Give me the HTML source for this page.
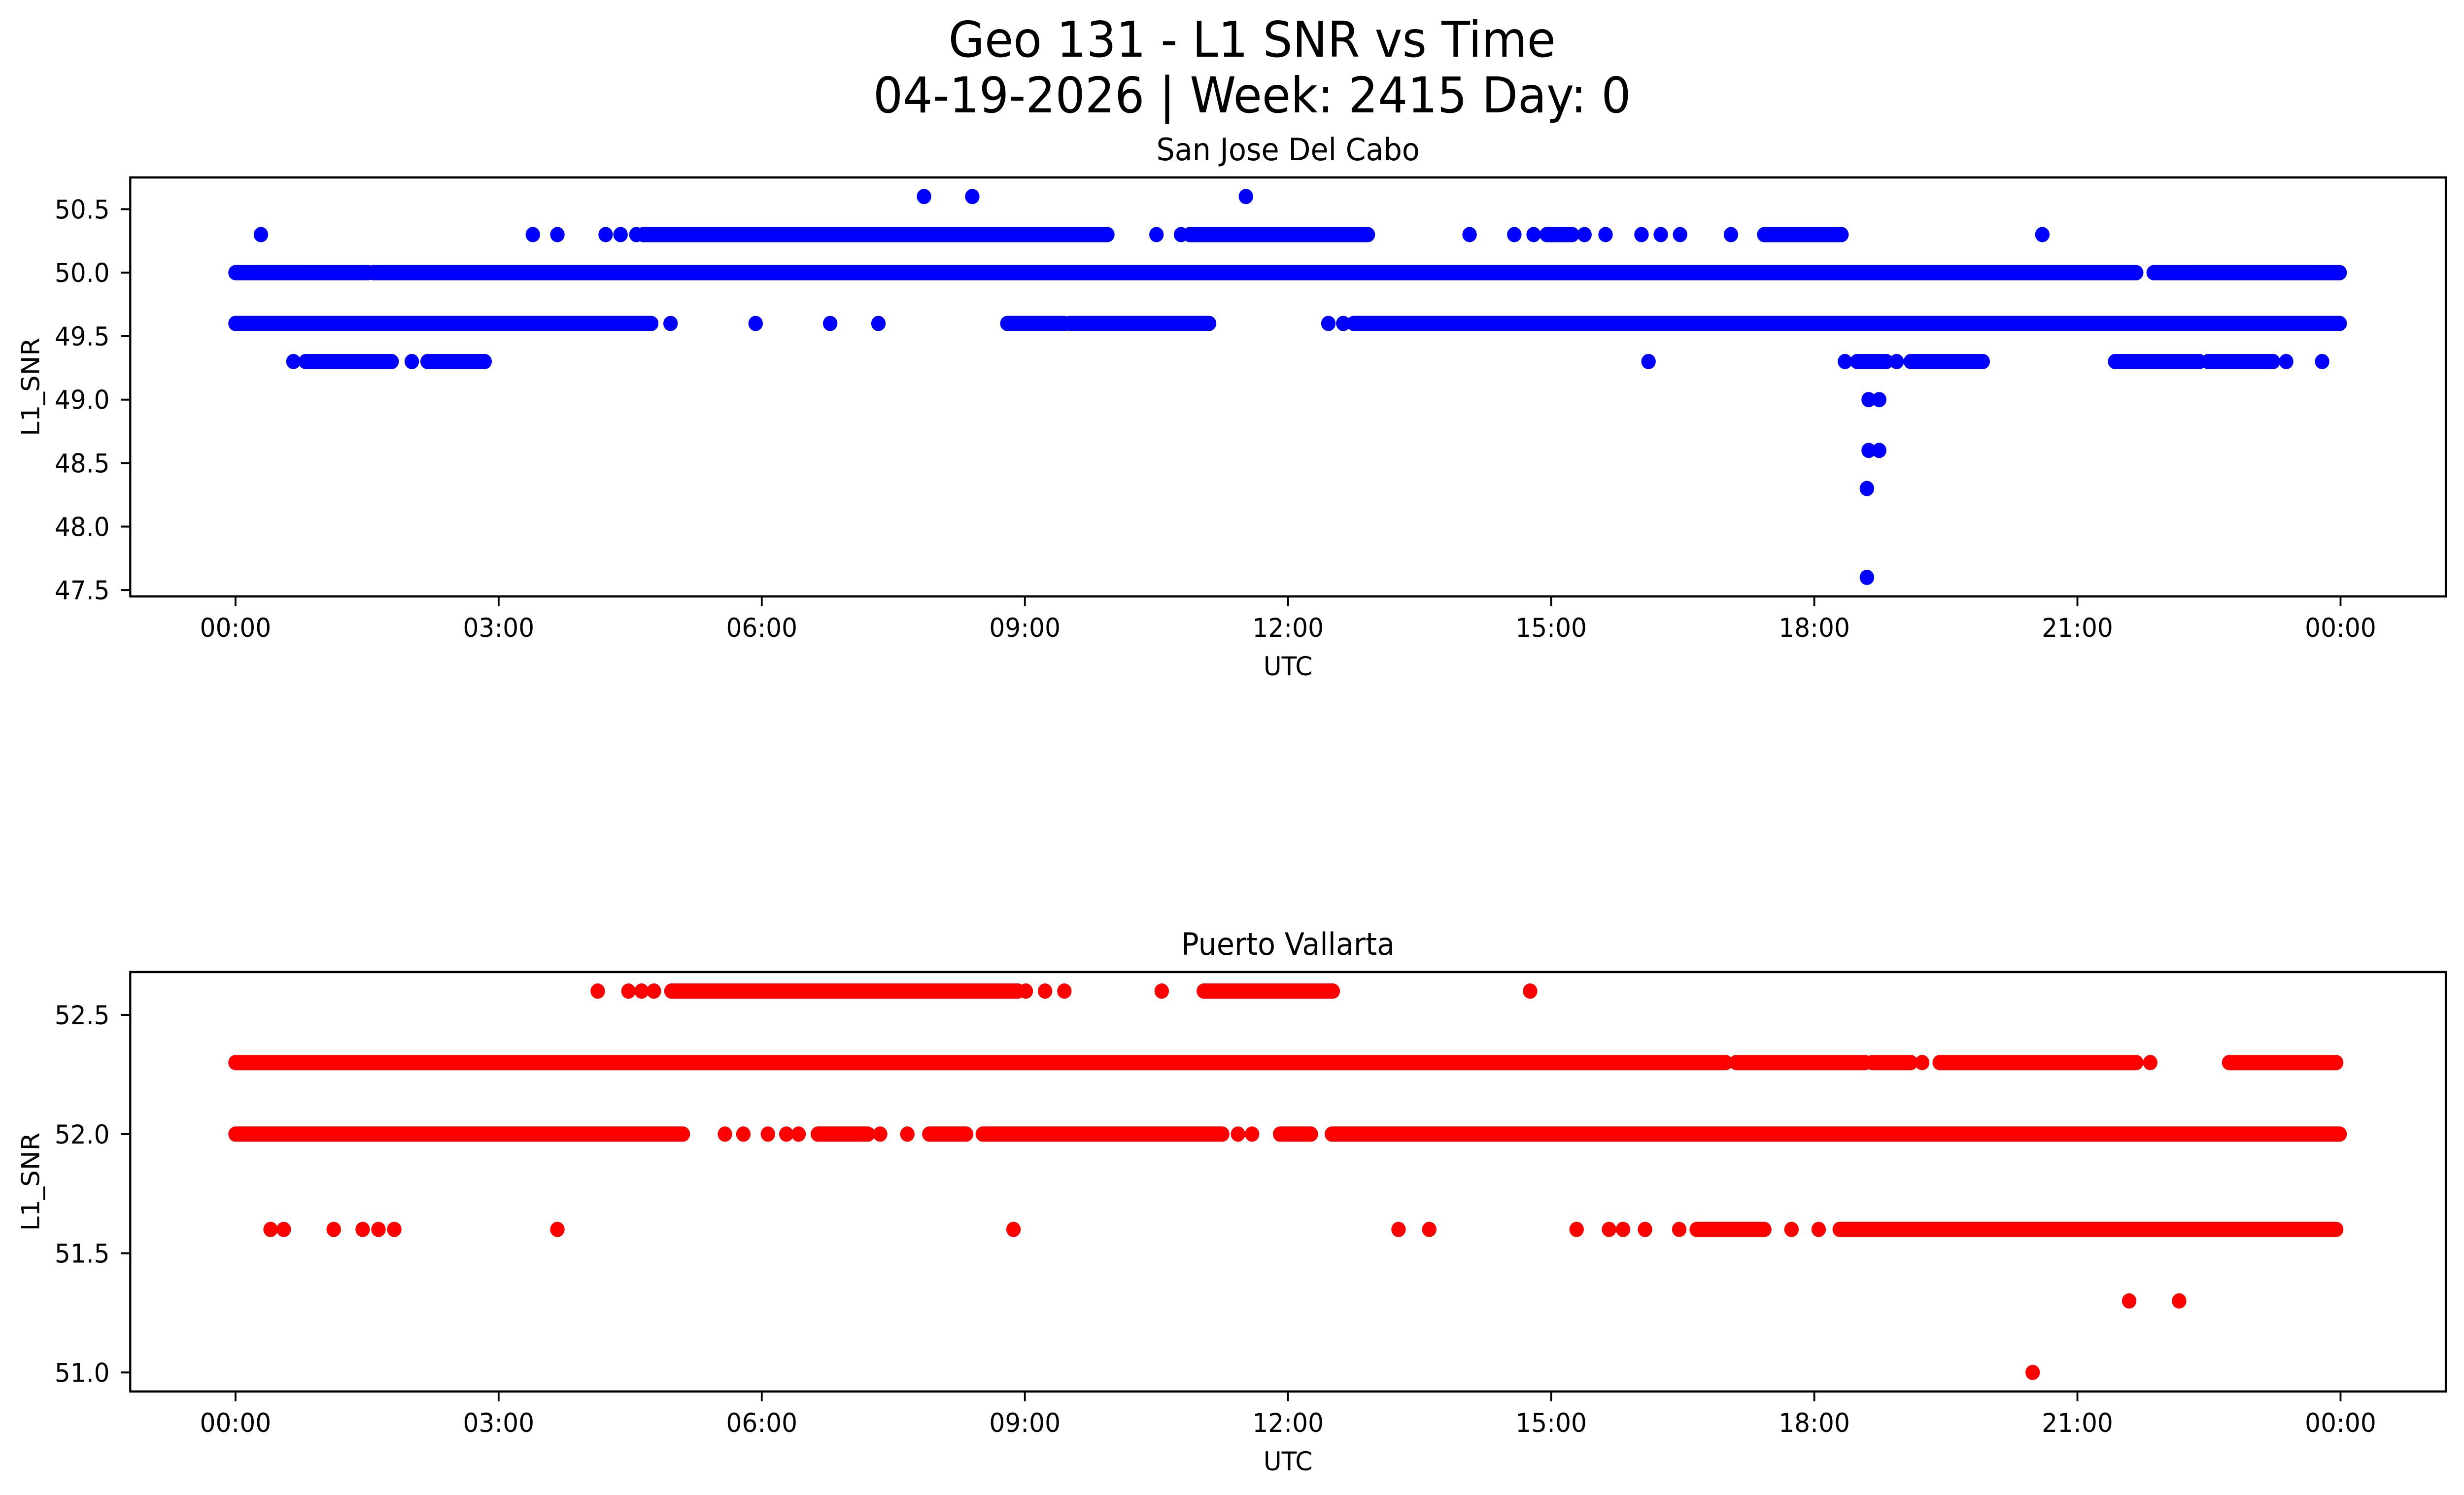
<!DOCTYPE html>
<html><head><meta charset="utf-8"><style>
html,body{margin:0;padding:0;background:#fff;overflow:hidden;width:100%;height:100%}
svg{display:block;font-family:"DejaVu Sans","Liberation Sans",sans-serif;overflow:hidden;width:100vw;height:100vh}
</style></head><body>
<svg id="fig" xmlns="http://www.w3.org/2000/svg" viewBox="0 0 5278 3033" preserveAspectRatio="none">
<rect width="5278" height="3033" fill="#fff"/>
<text x="2682" y="115" font-size="100" text-anchor="middle">Geo 131 - L1 SNR vs Time</text>
<text x="2682" y="228" font-size="100" text-anchor="middle">04-19-2026 | Week: 2415 Day: 0</text>
<g id="p1"></g>
<g id="p2"></g>
</svg>
<script>
// X ticks (hours) and labels
const xTickHours = [0,3,6,9,12,15,18,21,24];
const xTickLabels = ["00:00","03:00","06:00","09:00","12:00","15:00","18:00","21:00","00:00"];

// Top panel: San Jose Del Cabo
const topYTicks = [47.5,48.0,48.5,49.0,49.5,50.0,50.5];
const topRunStarts = [4.65,10.88,17.43,0.0,1.57,21.87,0.0,8.80,9.51,12.75,0.80,2.19,14.95,19.10,21.43,22.49,18.49];
const topRunEnds   = [9.94,12.91,18.31,1.51,21.67,23.99,4.74,9.45,11.10,23.99,1.78,2.84,15.24,19.92,22.39,23.23,18.82];
const topRunValues = [50.3,50.3,50.3,50.0,50.0,50.0,49.6,49.6,49.6,49.6,49.3,49.3,50.3,49.3,49.3,49.3,49.3];
const topPointTimes  = [7.85,8.40,11.52,0.29,3.39,3.67,4.22,4.39,4.57,10.50,10.78,14.07,14.58,14.80,15.38,15.62,16.03,16.25,16.47,17.05,20.60,4.96,5.93,6.78,7.33,12.46,12.63,0.66,2.01,16.11,18.35,18.94,23.38,23.79,18.62,18.74,18.62,18.74,18.60,18.60];
const topPointValues = [50.6,50.6,50.6,50.3,50.3,50.3,50.3,50.3,50.3,50.3,50.3,50.3,50.3,50.3,50.3,50.3,50.3,50.3,50.3,50.3,50.3,49.6,49.6,49.6,49.6,49.6,49.6,49.3,49.3,49.3,49.3,49.3,49.3,49.3,49.0,49.0,48.6,48.6,48.3,47.6];

// Bottom panel: Puerto Vallarta
const botYTicks = [51.0,51.5,52.0,52.5];
const botRunStarts = [4.97,11.04,0.0,17.11,18.66,19.43,22.73,0.0,6.64,7.91,8.52,11.91,12.50,16.66,18.29];
const botRunEnds   = [8.92,12.51,16.99,18.58,19.10,21.67,23.95,5.10,7.21,8.33,11.25,12.26,23.99,17.43,23.95];
const botRunValues = [52.6,52.6,52.3,52.3,52.3,52.3,52.3,52.0,52.0,52.0,52.0,52.0,52.0,51.6,51.6];
const botPointTimes  = [4.13,4.48,4.63,4.77,9.01,9.23,9.45,10.56,14.76,19.23,21.83,5.58,5.79,6.07,6.28,6.42,7.35,7.66,11.43,11.59,0.40,0.55,1.12,1.45,1.63,1.81,3.67,8.87,13.26,13.61,15.29,15.66,15.82,16.07,16.46,17.74,18.05,21.59,22.16,20.49];
const botPointValues = [52.6,52.6,52.6,52.6,52.6,52.6,52.6,52.6,52.6,52.3,52.3,52.0,52.0,52.0,52.0,52.0,52.0,52.0,52.0,52.0,51.6,51.6,51.6,51.6,51.6,51.6,51.6,51.6,51.6,51.6,51.6,51.6,51.6,51.6,51.6,51.6,51.6,51.3,51.3,51.0];

const NS = "http://www.w3.org/2000/svg";
const AX_L = 279, AX_R = 5239;
const X0 = -1.2, X1 = 25.2;
function xScale(h){ return AX_L + (h - X0) / (X1 - X0) * (AX_R - AX_L); }
function mk(tag, attrs, parent){ const e = document.createElementNS(NS, tag); for (const k in attrs) e.setAttribute(k, attrs[k]); parent.appendChild(e); return e; }

function panel(g, top, bottom, ymin, ymax, yTicks, runS, runE, runV, ptT, ptV, color, title){
  const yScale = v => bottom - (v - ymin) / (ymax - ymin) * (bottom - top);
  const R = 15.5;
  const marks = mk('g', {}, g);
  
  
  for (let i = 0; i < runS.length; i++){
    const ln = mk('line', {x1: xScale(runS[i]), x2: xScale(runE[i]), y1: yScale(runV[i]), y2: yScale(runV[i]), stroke: color, 'stroke-width': 2*R, 'stroke-linecap': 'round'}, marks);
    
    
  }
  for (let i = 0; i < ptT.length; i++){
    const c = mk('circle', {cx: xScale(ptT[i]), cy: yScale(ptV[i]), r: R, fill: color}, marks);
    
    
  }
  const frame = mk('rect', {x: AX_L, y: top, width: AX_R - AX_L, height: bottom - top, fill: 'none', stroke: '#000', 'stroke-width': 4.5}, g);
  
  
  for (let i = 0; i < yTicks.length; i++){
    const y = yScale(yTicks[i]);
    const t = mk('line', {x1: AX_L - 20, x2: AX_L, y1: y, y2: y, stroke: '#000', 'stroke-width': 4}, g);
    
    
    const lb = mk('text', {x: AX_L - 44, y: y + 19, 'font-size': 53, 'text-anchor': 'end'}, g);
    lb.textContent = yTicks[i].toFixed(1);
    
    
  }
  for (let i = 0; i < xTickHours.length; i++){
    const x = xScale(xTickHours[i]);
    const t = mk('line', {x1: x, x2: x, y1: bottom, y2: bottom + 20, stroke: '#000', 'stroke-width': 4}, g);
    
    
    const lb = mk('text', {x: x, y: bottom + 82, 'font-size': 53, 'text-anchor': 'middle'}, g);
    lb.textContent = xTickLabels[i];
    
    
  }
  const xl = mk('text', {x: (AX_L + AX_R)/2, y: bottom + 160, 'font-size': 53, 'text-anchor': 'middle'}, g);
  xl.textContent = 'UTC';
  
  
  const cy = (top + bottom)/2;
  const yl = mk('text', {x: 84, y: cy, 'font-size': 53, 'text-anchor': 'middle', transform: 'rotate(-90 84 ' + cy + ')'}, g);
  yl.textContent = 'L1_SNR';
  
  
  const tt = mk('text', {x: (AX_L + AX_R)/2, y: top - 35, 'font-size': 62, 'text-anchor': 'middle'}, g);
  tt.textContent = title;
  
  
}

panel(document.getElementById('p1'), 360, 1210, 47.45, 50.75, topYTicks, topRunStarts, topRunEnds, topRunValues, topPointTimes, topPointValues, '#0000ff', 'San Jose Del Cabo');
panel(document.getElementById('p2'), 1972, 2823, 50.92, 52.68, botYTicks, botRunStarts, botRunEnds, botRunValues, botPointTimes, botPointValues, '#ff0000', 'Puerto Vallarta');
</script>
</body></html>
